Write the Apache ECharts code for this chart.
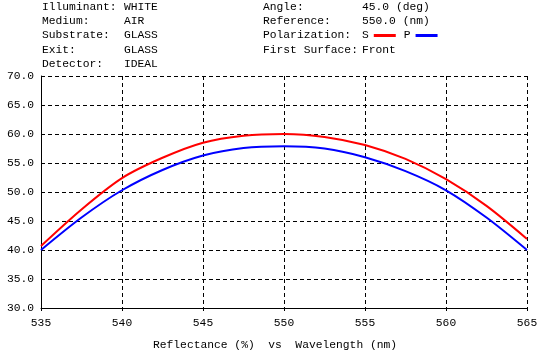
<!DOCTYPE html>
<html>
<head>
<meta charset="utf-8">
<script src="https://cdn.jsdelivr.net/npm/echarts@6/dist/echarts.min.js"></script>
<style>
  html, body { margin: 0; padding: 0; background: #fff; }
  #chart { width: 557px; height: 358px; }
</style>
</head>
<body>
<div id="chart"></div>
<script>
// wavelength (nm)
var wavelengths = [535, 537.5, 540, 542.5, 545, 547.5, 550, 552.5, 555, 557.5, 560, 562.5, 565]
// reflectance (%)
var sValues = [40.7, 47.0, 52.4, 55.9, 58.5, 59.7, 60.0, 59.5, 58.1, 55.7, 52.2, 47.6, 41.9]
var pValues = [40.0, 45.6, 50.3, 53.8, 56.3, 57.6, 57.9, 57.5, 56.0, 53.6, 50.3, 45.6, 40.0]

var headerLeft = [
  ['Illuminant:', 'WHITE'],
  ['Medium:', 'AIR'],
  ['Substrate:', 'GLASS'],
  ['Exit:', 'GLASS'],
  ['Detector:', 'IDEAL']
]
var headerRight = [
  ['Angle:', '45.0 (deg)'],
  ['Reference:', '550.0 (nm)'],
  ['Polarization:', ''],
  ['First Surface:', 'Front']
]

var FONT = '"Liberation Mono", "DejaVu Sans Mono", monospace'
var FS = 11.3

function pairs(a, b) {
  return a.map(function (x, i) { return [x, b[i]] })
}

var graphics = []
function addText(x, y, txt) {
  graphics.push({
    type: 'text', left: x, top: y,
    style: { text: txt, font: FS + 'px ' + FONT, fill: '#000' }
  })
}
headerLeft.forEach(function (row, i) {
  addText(42, 1.5 + i * 14.2, row[0])
  addText(124, 1.5 + i * 14.2, row[1])
})
headerRight.forEach(function (row, i) {
  addText(263, 1.5 + i * 14.2, row[0])
  if (row[1]) addText(362, 1.5 + i * 14.2, row[1])
})
addText(153, 340, 'Reflectance (%)  vs  Wavelength (nm)')

var myChart = echarts.init(document.getElementById('chart'))
var dashed = { color: '#000', width: 1, type: [4, 3] }

var option = {
  animation: false,
  backgroundColor: '#fff',
  graphic: graphics,
  legend: {
    left: 362,
    top: 30,
    padding: 0,
    itemWidth: 22,
    itemHeight: 3,
    itemGap: 8,
    icon: 'rect',
    data: ['S', 'P'],
    align: 'right',
    textStyle: { fontFamily: FONT, fontSize: FS, color: '#000', padding: [0, 0, 0, 0] }
  },
  grid: { left: 41, right: 30, top: 76, bottom: 50 },
  xAxis: {
    type: 'value',
    min: 535,
    max: 565,
    interval: 5,
    axisLine: { lineStyle: { color: '#000', width: 1 } },
    axisTick: { show: true, length: 3, lineStyle: { color: '#000' } },
    axisLabel: { color: '#000', fontFamily: FONT, fontSize: FS, margin: 10 },
    splitLine: { show: true, lineStyle: dashed }
  },
  yAxis: {
    type: 'value',
    min: 30,
    max: 70,
    interval: 5,
    axisLine: { show: true, lineStyle: { color: '#000', width: 1 } },
    axisTick: { show: false },
    axisLabel: {
      color: '#000', fontFamily: FONT, fontSize: FS, margin: 7,
      formatter: function (v) { return v.toFixed(1) }
    },
    splitLine: { show: true, lineStyle: dashed }
  },
  series: [
    {
      name: 'S',
      type: 'line',
      data: pairs(wavelengths, sValues),
      smooth: 0.3,
      symbol: 'none',
      lineStyle: { color: '#ff0000', width: 2 },
      itemStyle: { color: '#ff0000' }
    },
    {
      name: 'P',
      type: 'line',
      data: pairs(wavelengths, pValues),
      smooth: 0.3,
      symbol: 'none',
      lineStyle: { color: '#0000ff', width: 2 },
      itemStyle: { color: '#0000ff' }
    }
  ]
}
myChart.setOption(option, true)
</script>
</body>
</html>
